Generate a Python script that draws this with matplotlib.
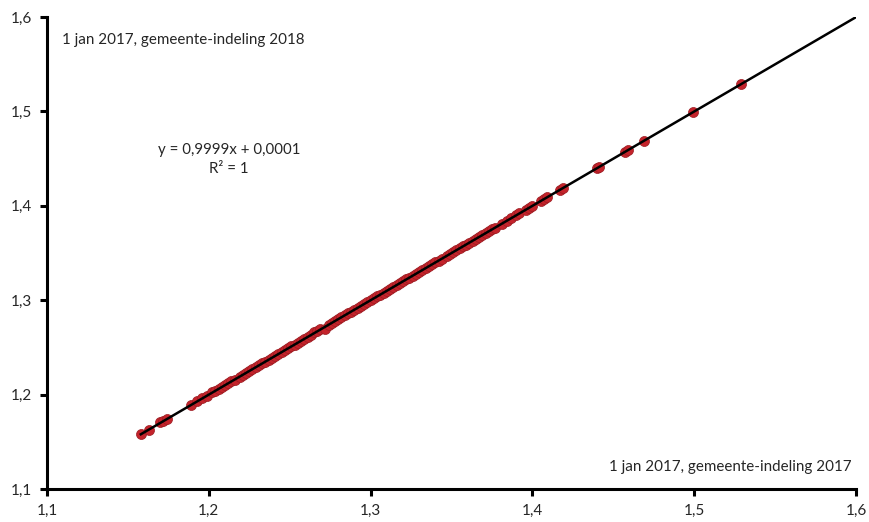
import matplotlib
matplotlib.use("Agg")
import matplotlib.pyplot as plt
import numpy as np

# Vruchtbaarheidscijfer per gemeente, 1 jan 2017: indeling 2017 vs indeling 2018
indeling_2017 = [
    1.158, 1.163, 1.170, 1.172, 1.174, 1.189, 1.193, 1.196, 1.199, 1.202,
    1.204, 1.206, 1.208, 1.210, 1.212, 1.214, 1.216, 1.219, 1.221, 1.223,
    1.225, 1.227, 1.229, 1.231, 1.233, 1.235, 1.237, 1.239, 1.241, 1.243,
    1.245, 1.247, 1.249, 1.251, 1.253, 1.255, 1.257, 1.259, 1.261, 1.263,
    1.265, 1.267, 1.269, 1.272, 1.274, 1.276, 1.278, 1.280, 1.282, 1.284,
    1.286, 1.288, 1.290, 1.292, 1.294, 1.296, 1.298, 1.300, 1.302, 1.304,
    1.306, 1.308, 1.310, 1.312, 1.314, 1.316, 1.318, 1.320, 1.322, 1.324,
    1.326, 1.328, 1.330, 1.332, 1.334, 1.336, 1.338, 1.340, 1.342, 1.344,
    1.347, 1.349, 1.351, 1.353, 1.355, 1.357, 1.359, 1.361, 1.363, 1.365,
    1.367, 1.369, 1.371, 1.373, 1.375, 1.377, 1.381, 1.384, 1.387, 1.390,
    1.392, 1.396, 1.398, 1.400, 1.405, 1.407, 1.409, 1.417, 1.419, 1.440,
    1.441, 1.457, 1.459, 1.469, 1.499, 1.529,
]
indeling_2018 = [
    1.158, 1.163, 1.171, 1.172, 1.174, 1.189, 1.193, 1.196, 1.199, 1.203,
    1.204, 1.206, 1.208, 1.210, 1.212, 1.214, 1.216, 1.219, 1.221, 1.223,
    1.225, 1.227, 1.229, 1.231, 1.233, 1.235, 1.237, 1.239, 1.241, 1.243,
    1.245, 1.247, 1.249, 1.251, 1.253, 1.255, 1.257, 1.259, 1.261, 1.263,
    1.266, 1.267, 1.269, 1.269, 1.274, 1.276, 1.278, 1.280, 1.282, 1.284,
    1.286, 1.288, 1.290, 1.292, 1.294, 1.296, 1.298, 1.300, 1.302, 1.304,
    1.306, 1.308, 1.310, 1.312, 1.314, 1.316, 1.318, 1.320, 1.322, 1.324,
    1.326, 1.328, 1.330, 1.332, 1.334, 1.336, 1.338, 1.340, 1.342, 1.344,
    1.347, 1.349, 1.351, 1.353, 1.355, 1.357, 1.359, 1.361, 1.363, 1.365,
    1.367, 1.369, 1.371, 1.373, 1.375, 1.377, 1.381, 1.384, 1.387, 1.390,
    1.392, 1.396, 1.398, 1.400, 1.405, 1.407, 1.409, 1.417, 1.419, 1.440,
    1.441, 1.457, 1.459, 1.469, 1.499, 1.529,
]

# Trendline coefficients
slope, intercept = 0.9999, 0.0001
trend_x = [1.158, 1.6]

ticks = [1.1, 1.2, 1.3, 1.4, 1.5, 1.6]
tick_labels = ["1,1", "1,2", "1,3", "1,4", "1,5", "1,6"]

plt.rcParams["font.family"] = ["Lato", "DejaVu Sans"]

fig = plt.figure(figsize=(8.7, 5.22), dpi=100)
ax = fig.add_axes([0.054, 0.0632, 0.930, 0.9042])

ax.scatter(indeling_2017, indeling_2018, s=52, color="#c4232b",
           edgecolors="#9a1c22", linewidths=0.5, zorder=2)
tx = np.array(trend_x)
ax.plot(tx, slope * tx + intercept, color="black", lw=1.8, zorder=3)

ax.set_xlim(1.1, 1.6)
ax.set_ylim(1.1, 1.6)
ax.set_xticks(ticks)
ax.set_xticklabels(tick_labels)
ax.set_yticks(ticks)
ax.set_yticklabels(tick_labels)

for side in ("top", "right"):
    ax.spines[side].set_visible(False)
for side in ("left", "bottom"):
    ax.spines[side].set_linewidth(2.2)
ax.tick_params(axis="both", direction="out", length=5, width=2.2,
               labelsize=11, colors="black", pad=6)
for lbl in ax.get_xticklabels() + ax.get_yticklabels():
    lbl.set_color("#262626")
ax.spines["left"].set_capstyle("projecting")

ax.text(0.019, 0.951, "1 jan 2017, gemeente-indeling 2018", transform=ax.transAxes,
        fontsize=10.9, color="#262626", ha="left", va="center")
ax.text(0.995, 0.047, "1 jan 2017, gemeente-indeling 2017", transform=ax.transAxes,
        fontsize=10.9, color="#262626", ha="right", va="center")
ax.text(0.225, 0.698, "y = 0,9999x + 0,0001\nR² = 1", transform=ax.transAxes,
        fontsize=10.8, color="#262626", ha="center", va="center", linespacing=1.4)

fig.savefig("out.png", dpi=100)
